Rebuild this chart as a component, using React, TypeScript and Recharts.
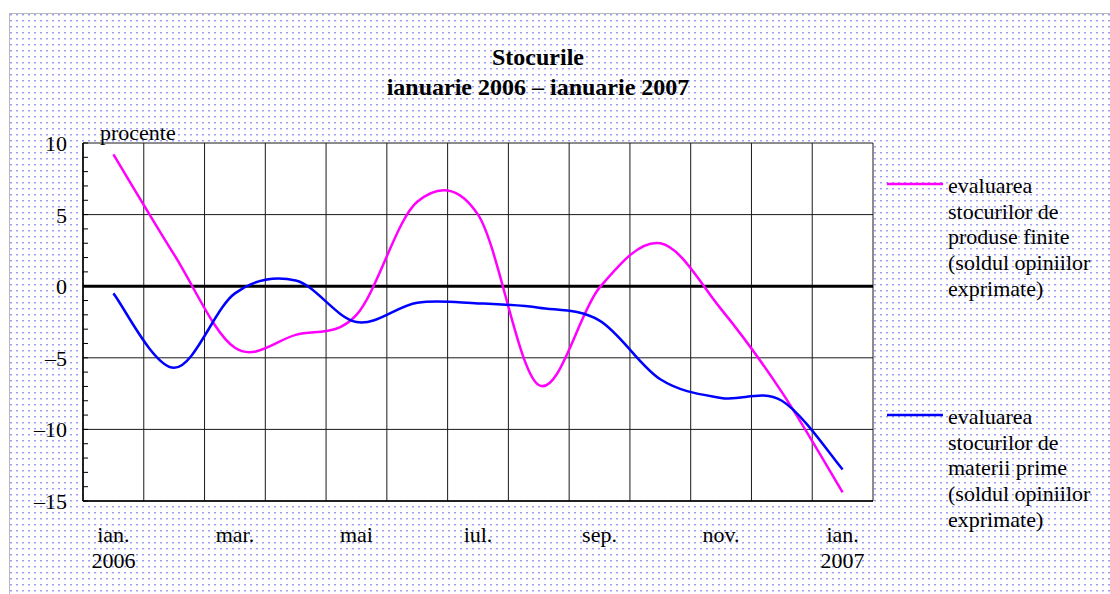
import React from 'react';
import { LineChart, Line, XAxis, YAxis, CartesianGrid, ReferenceLine, Legend } from 'recharts';

const months = ['ian.', 'feb.', 'mar.', 'apr.', 'mai', 'iun.', 'iul.', 'aug.', 'sep.', 'oct.', 'nov.', 'dec.', 'ian.'];
const years = ['2006', '', '', '', '', '', '', '', '', '', '', '', '2007'];
const produseFinite = [9.2, 2.2, -4.3, -3.4, -2.0, 5.9, 5.0, -6.9, -0.1, 3.0, -1.6, -7.4, -14.4];
const materiiPrime = [-0.5, -5.7, -0.5, 0.4, -2.5, -1.15, -1.2, -1.5, -2.4, -6.5, -7.8, -8.0, -12.8];
const yTicks = [-15, -14, -13, -12, -11, -10, -9, -8, -7, -6, -5, -4, -3, -2, -1, 0, 1, 2, 3, 4, 5, 6, 7, 8, 9, 10];
const seriesNames = [
  'evaluarea stocurilor de produse finite (soldul opiniilor exprimate)',
  'evaluarea stocurilor de materii prime (soldul opiniilor exprimate)',
];
const legendLines = [
  ['evaluarea', 'stocurilor de', 'produse finite', '(soldul opiniilor', 'exprimate)'],
  ['evaluarea', 'stocurilor de', 'materii prime', '(soldul opiniilor', 'exprimate)'],
];
const titleLines = ['Stocurile', 'ianuarie 2006 – ianuarie 2007'];
const unitLabel = 'procente';

const data = months.map((m, i) => ({
  key: String(i),
  month: m,
  year: years[i],
  finite: produseFinite[i],
  prime: materiiPrime[i],
}));

const FONT = '"Liberation Serif", "Times New Roman", serif';
const FS = 22;

// Excel-style smoothed line (Catmull-Rom through the points)
const excelCurve = (context: any) => {
  let xs: number[] = [];
  let ys: number[] = [];
  return {
    areaStart() {},
    areaEnd() {},
    lineStart() {
      xs = [];
      ys = [];
    },
    lineEnd() {
      const n = xs.length;
      if (n === 0) return;
      context.moveTo(xs[0], ys[0]);
      for (let i = 0; i < n - 1; i++) {
        const i0 = Math.max(i - 1, 0);
        const i3 = Math.min(i + 2, n - 1);
        const c1x = xs[i] + (xs[i + 1] - xs[i0]) / 6;
        const c1y = ys[i] + (ys[i + 1] - ys[i0]) / 6;
        const c2x = xs[i + 1] - (xs[i3] - xs[i]) / 6;
        const c2y = ys[i + 1] - (ys[i3] - ys[i]) / 6;
        context.bezierCurveTo(c1x, c1y, c2x, c2y, xs[i + 1], ys[i + 1]);
      }
    },
    point(x: number, y: number) {
      xs.push(+x);
      ys.push(+y);
    },
  };
};

const formatY = (v: number) => (v < 0 ? '–' + Math.abs(v) : String(v));

const YTick = (props: any) => {
  const { x, y, payload } = props;
  const v = payload.value as number;
  const axisX = x + 16;
  return (
    <g>
      <line x1={axisX} x2={axisX + 5} y1={y} y2={y} stroke="#000" strokeWidth={1} />
      {v % 5 === 0 && (
        <text x={x} y={y} dy="0.36em" textAnchor="end" fontFamily={FONT} fontSize={FS} fill="#000">
          {formatY(v)}
        </text>
      )}
    </g>
  );
};

const XTick = (props: any) => {
  const { x, y, payload } = props;
  const idx = Number(payload.value);
  if (idx % 2 !== 0) return <g />;
  return (
    <g>
      <text x={x} y={y + 41} textAnchor="middle" fontFamily={FONT} fontSize={FS} fill="#000">
        {months[idx]}
      </text>
      {years[idx] && (
        <text x={x} y={y + 67} textAnchor="middle" fontFamily={FONT} fontSize={FS} fill="#000">
          {years[idx]}
        </text>
      )}
    </g>
  );
};

const renderLegend = (props: any) => {
  const payload = props.payload || [];
  const tops = [24, 255];
  return (
    <svg width={230} height={380} style={{ overflow: 'visible' }}>
      {seriesNames.map((name, i) => {
        const entry = payload.find((p: any) => p.value === name);
        if (!entry) return null;
        return (
          <g key={i}>
            <line x1={7} x2={63} y1={tops[i]} y2={tops[i]} stroke={entry.color} strokeWidth={2.5} />
            {legendLines[i].map((t, k) => (
              <text key={k} x={68} y={tops[i] + 9 + k * 25.7} fontFamily={FONT} fontSize={FS} fill="#000">
                {t}
              </text>
            ))}
          </g>
        );
      })}
    </svg>
  );
};

const dotBg =
  "url(\"data:image/svg+xml,%3Csvg xmlns='http://www.w3.org/2000/svg' width='6' height='6'%3E%3Crect width='2' height='1' fill='%239c9cf2'/%3E%3Crect y='1' width='2' height='1' fill='%23d2d2fa'/%3E%3C/svg%3E\")";

export default function App() {
  return (
    <div style={{ position: 'absolute', left: 0, top: 0, width: 1110, height: 594, background: '#fff', overflow: 'hidden' }}>
      <div
        style={{
          position: 'absolute',
          left: 9,
          top: 13,
          width: 1110 - 9,
          height: 594 - 13,
          borderTop: '1px solid #b8b8b8',
          borderLeft: '1px solid #b8b8b8',
          backgroundImage: dotBg,
          backgroundRepeat: 'repeat',
        }}
      />
      <div style={{ position: 'absolute', left: 0, top: 0 }}>
        <LineChart width={1110} height={594} data={data} margin={{ top: 143, right: 237, bottom: 63, left: 0 }}>
          <CartesianGrid
            stroke="#1a1a1a"
            strokeWidth={1}
            fill="#fff"
            fillOpacity={1}
            verticalCoordinatesGenerator={({ offset }: any) =>
              Array.from({ length: 14 }, (_, k) => offset.left + (k * offset.width) / 13)
            }
            horizontalCoordinatesGenerator={({ offset }: any) =>
              Array.from({ length: 6 }, (_, k) => offset.top + (k * offset.height) / 5)
            }
          />
          <XAxis
            dataKey="key"
            scale="band"
            height={30}
            interval={0}
            tickLine={false}
            tickSize={0}
            tickMargin={0}
            axisLine={{ stroke: '#000', strokeWidth: 1.5 }}
            tick={<XTick />}
          />
          <YAxis
            width={83}
            domain={[-15, 10]}
            ticks={yTicks}
            interval={0}
            tickLine={false}
            tickSize={0}
            tickMargin={16}
            axisLine={{ stroke: '#000', strokeWidth: 1.5 }}
            tick={<YTick />}
            allowDataOverflow
          />
          <ReferenceLine y={0} stroke="#000" strokeWidth={3} />
          <Line
            name={seriesNames[0]}
            dataKey="finite"
            type={excelCurve as any}
            stroke="#ff00ff"
            strokeWidth={2.5}
            dot={false}
            activeDot={false}
            isAnimationActive={false}
          />
          <Line
            name={seriesNames[1]}
            dataKey="prime"
            type={excelCurve as any}
            stroke="#0000ff"
            strokeWidth={2.5}
            dot={false}
            activeDot={false}
            isAnimationActive={false}
          />
          <Legend
            layout="horizontal"
            verticalAlign="middle"
            align="center"
            wrapperStyle={{ position: 'absolute', left: 880, top: 160, width: 230, height: 380 }}
            content={renderLegend}
          />
        </LineChart>
      </div>
      <svg
        width={1110}
        height={594}
        style={{ position: 'absolute', left: 0, top: 0, pointerEvents: 'none' }}
      >
        <text x={538} y={65} textAnchor="middle" fontFamily={FONT} fontWeight="bold" fontSize={24} fill="#000">
          {titleLines[0]}
        </text>
        <text x={538} y={95} textAnchor="middle" fontFamily={FONT} fontWeight="bold" fontSize={24} fill="#000">
          {titleLines[1]}
        </text>
        <text x={100} y={140} fontFamily={FONT} fontSize={FS} fill="#000">
          {unitLabel}
        </text>
      </svg>
    </div>
  );
}
